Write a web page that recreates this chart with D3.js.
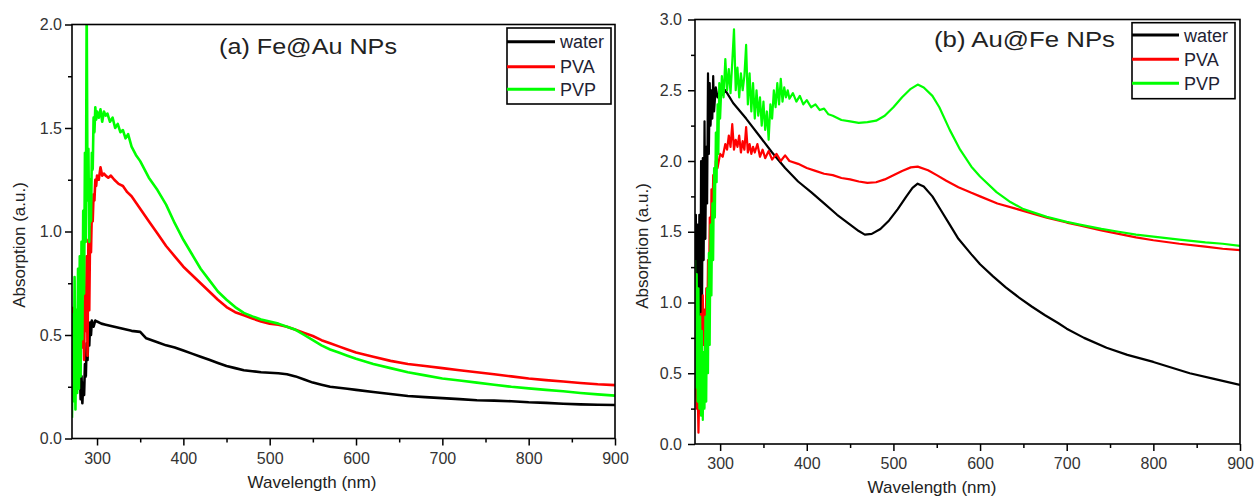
<!DOCTYPE html>
<html>
<head>
<meta charset="utf-8">
<script src="https://cdn.jsdelivr.net/npm/d3@7"></script>
<style>
  html, body { margin: 0; padding: 0; background: #fff; }
  svg { display: block; font-family: "Liberation Sans", Arial, sans-serif; }
</style>
</head>
<body>
<svg id="chart" width="1254" height="497"></svg>
<script>
// ---------------- DATA ----------------
const seriesNames = ["water", "PVA", "PVP"];
const seriesColors = ["#000000", "#ff0000", "#00ff00"];
const xTicksMajor = [300, 400, 500, 600, 700, 800, 900];
const xTicksMinor = [350, 450, 550, 650, 750, 850];
const yTicksA = [0.0, 0.5, 1.0, 1.5, 2.0];
const yTicksB = [0.0, 0.5, 1.0, 1.5, 2.0, 2.5, 3.0];
const titleA = "(a) Fe@Au NPs";
const titleB = "(b) Au@Fe NPs";

// Panel (a) Fe@Au NPs
const aWaterWl = [271,272,273,274,275,276,277,278,279,280,281,282,283,284,285,286,287,288,289,290,291,292,293,294,296,298,300,305,310,320,330,340,350,357,370,380,390,400,410,420,430,440,450,460,470,480,490,500,510,520,530,540,550,560,570,580,590,600,620,640,660,680,700,720,740,760,780,800,820,840,860,880,900];
const aWater   = [0.45,0.63,0.50,0.60,0.36,0.52,0.27,0.42,0.24,0.36,0.19,0.30,0.17,0.27,0.21,0.36,0.30,0.46,0.38,0.52,0.45,0.56,0.50,0.57,0.54,0.57,0.565,0.555,0.55,0.54,0.53,0.52,0.515,0.484,0.465,0.45,0.44,0.425,0.41,0.395,0.38,0.365,0.35,0.34,0.33,0.325,0.32,0.318,0.315,0.31,0.30,0.285,0.27,0.26,0.25,0.245,0.24,0.235,0.225,0.215,0.205,0.20,0.195,0.19,0.185,0.183,0.18,0.175,0.172,0.168,0.165,0.163,0.162];

const aPvaWl = [271,272,273,274,275,276,277,278,279,280,281,282,283,284,285,286,287,288,289,290,291,292,293,294,295,296,297,298,299,300,302,304,306,308,310,313,316,320,325,330,335,340,345,350,360,370,380,390,400,410,420,430,440,450,460,470,480,490,500,510,520,530,540,550,560,570,580,590,600,620,640,660,680,700,720,740,760,780,800,820,840,860,880,900];
const aPva   = [0.55,0.63,0.42,0.60,0.33,0.56,0.30,0.50,0.36,0.62,0.40,0.70,0.44,0.66,0.38,0.72,0.52,0.88,0.40,0.96,0.62,1.02,0.90,1.10,1.05,1.18,1.15,1.25,1.22,1.27,1.25,1.31,1.27,1.28,1.27,1.26,1.27,1.25,1.23,1.22,1.19,1.17,1.14,1.11,1.05,0.99,0.93,0.88,0.83,0.79,0.75,0.71,0.67,0.635,0.61,0.595,0.58,0.565,0.555,0.55,0.54,0.525,0.51,0.495,0.475,0.46,0.445,0.43,0.415,0.395,0.375,0.36,0.35,0.34,0.33,0.32,0.31,0.30,0.29,0.282,0.275,0.268,0.262,0.258];

const aPvpWl = [271,272,273,274,275,276,277,278,279,280,281,282,283,284,285,286,287,288,289,290,291,292,293,294,295,296,297,298,299,300,302,304,306,308,310,312,315,318,321,324,327,330,333,336,340,345,350,355,360,370,380,390,400,410,420,430,440,450,460,470,480,490,500,510,520,530,540,550,560,570,580,590,600,620,640,660,680,700,720,740,760,780,800,820,840,860,880,900];
const aPvp   = [0.10,0.60,0.18,0.78,0.14,0.62,0.22,0.82,0.24,0.88,0.30,0.95,0.48,1.10,0.70,1.38,0.95,2.10,1.15,1.40,0.95,1.25,1.05,1.38,1.30,1.55,1.48,1.60,1.54,1.58,1.55,1.59,1.53,1.58,1.56,1.57,1.53,1.55,1.50,1.52,1.48,1.49,1.45,1.47,1.41,1.37,1.34,1.30,1.26,1.20,1.13,1.04,0.96,0.89,0.82,0.765,0.71,0.67,0.635,0.607,0.59,0.575,0.565,0.555,0.54,0.525,0.50,0.475,0.45,0.43,0.415,0.40,0.385,0.36,0.34,0.32,0.305,0.29,0.28,0.27,0.26,0.25,0.242,0.235,0.228,0.22,0.213,0.207];

// Panel (b) Au@Fe NPs
const bWaterWl = [271,272,273,274,275,276,277,278,279,280,281,282,283,284,285,286,287,288,289,290,291,292,293,295,297,300,303,306,310,315,330,345,360,375,390,405,420,435,450,460,467,475,485,495,505,515,522,528,535,545,555,565,575,590,600,615,630,645,660,675,690,700,720,746,770,800,842,870,900];
const bWater   = [1.30,1.62,1.10,1.55,1.00,1.62,0.55,2.00,0.80,2.02,1.30,2.28,1.45,2.10,1.70,2.62,2.05,2.55,2.25,2.50,2.30,2.60,2.35,2.52,2.45,2.50,2.47,2.50,2.46,2.41,2.30,2.18,2.06,1.95,1.855,1.78,1.70,1.62,1.55,1.505,1.48,1.485,1.52,1.58,1.66,1.75,1.81,1.84,1.82,1.75,1.65,1.55,1.45,1.34,1.27,1.185,1.105,1.035,0.97,0.91,0.855,0.815,0.75,0.68,0.63,0.58,0.50,0.46,0.417];

const bPvaWl = [271,272,273,274,275,276,277,278,279,280,281,282,283,284,285,286,287,288,289,290,291,292,293,295,297,300,303,306,308,310,312,314,316,318,320,322,324,326,328,330,332,334,336,338,340,343,346,349,352,356,360,365,370,375,380,390,400,410,420,430,440,450,460,470,480,490,500,510,520,528,540,550,561,575,590,600,620,640,660,677,700,715,740,760,780,800,830,860,880,900];
const bPva   = [0.35,0.40,0.25,0.40,0.08,0.38,0.22,0.92,0.55,1.05,0.70,0.95,0.60,1.10,0.75,1.30,0.95,1.60,1.20,1.80,1.55,1.90,1.75,2.00,1.95,2.05,2.03,2.12,2.08,2.18,2.10,2.26,2.08,2.15,2.10,2.18,2.06,2.14,2.08,2.24,2.06,2.12,2.05,2.10,2.06,2.12,2.03,2.08,2.02,2.07,2.01,2.05,2.00,2.04,2.00,1.98,1.95,1.93,1.91,1.90,1.88,1.87,1.855,1.845,1.85,1.87,1.90,1.93,1.955,1.96,1.935,1.90,1.86,1.815,1.775,1.75,1.70,1.665,1.63,1.60,1.565,1.545,1.51,1.485,1.46,1.44,1.415,1.395,1.38,1.37];

const bPvpWl = [271,272,273,274,275,276,277,278,279,280,281,282,283,284,285,286,287,288,289,290,291,292,293,294,295,296,297,298,299,300,302,304,306,308,310,312,314,316,318,320,322,324,326,328,330,332,334,336,338,340,342,344,346,348,350,352,354,356,358,360,362,364,366,368,370,372,374,376,378,380,384,388,392,396,400,405,410,415,420,425,430,440,450,460,470,480,490,500,510,520,528,535,545,553,565,577,590,600,619,635,650,677,700,715,740,760,780,800,830,860,880,900];
const bPvp   = [1.30,0.40,1.20,0.30,1.10,0.25,0.90,0.20,0.80,0.17,0.65,0.25,0.90,0.30,1.10,0.50,1.35,0.70,1.55,1.05,1.70,1.30,1.95,1.60,2.20,1.85,2.40,2.05,2.55,2.30,2.60,2.45,2.72,2.50,2.65,2.48,2.70,2.93,2.50,2.66,2.45,2.62,2.50,2.60,2.82,2.40,2.62,2.35,2.55,2.30,2.50,2.32,2.45,2.25,2.42,2.22,2.35,2.15,2.40,2.30,2.50,2.38,2.55,2.40,2.58,2.42,2.52,2.45,2.50,2.44,2.48,2.42,2.46,2.40,2.43,2.38,2.40,2.36,2.37,2.33,2.32,2.29,2.28,2.27,2.275,2.285,2.32,2.38,2.45,2.51,2.54,2.52,2.46,2.38,2.22,2.08,1.96,1.89,1.78,1.71,1.66,1.605,1.57,1.55,1.52,1.50,1.48,1.465,1.445,1.425,1.415,1.40];

// ---------------- DRAW ----------------
const svg = d3.select("#chart");
const FONT = '"Liberation Sans", Arial, sans-serif';

function panel(cfg) {
  const x = d3.scaleLinear().domain([271, 900]).range([cfg.x0, cfg.x1]);
  const y = d3.scaleLinear().domain([0, cfg.yMax]).range([cfg.y0, cfg.y1]);
  const g = svg.append("g");

  const clipId = "clip" + cfg.id;
  svg.append("defs").append("clipPath").attr("id", clipId)
    .append("rect").attr("x", cfg.x0).attr("y", cfg.y1)
    .attr("width", cfg.x1 - cfg.x0).attr("height", cfg.y0 - cfg.y1);

  const line = d3.line().x(d => x(d[0])).y(d => y(d[1]));
  const lines = g.append("g").attr("clip-path", `url(#${clipId})`);
  cfg.series.forEach((s, i) => {
    const pts = s.wl.map((w, k) => [w, s.v[k]]);
    lines.append("path").datum(pts)
      .attr("d", line).attr("fill", "none")
      .attr("stroke", seriesColors[i]).attr("stroke-width", cfg.lw)
      .attr("stroke-linejoin", "round");
  });

  // frame
  g.append("rect").attr("x", cfg.x0).attr("y", cfg.y1)
    .attr("width", cfg.x1 - cfg.x0).attr("height", cfg.y0 - cfg.y1)
    .attr("fill", "none").attr("stroke", "#000").attr("stroke-width", 1.6);

  // x axis major
  const xa = g.append("g").attr("transform", `translate(0,${cfg.y0})`)
    .call(d3.axisBottom(x).tickValues(xTicksMajor).tickSize(7).tickPadding(7).tickFormat(d3.format("d")));
  xa.select(".domain").remove();
  xa.selectAll("line").attr("stroke-width", 1.5);
  xa.selectAll("text").attr("font-size", 16).attr("font-family", FONT).attr("fill", "#333");
  const xm = g.append("g").attr("transform", `translate(0,${cfg.y0})`)
    .call(d3.axisBottom(x).tickValues(xTicksMinor).tickSize(4).tickFormat(""));
  xm.select(".domain").remove();
  xm.selectAll("line").attr("stroke-width", 1.5);

  // y axis
  const ya = g.append("g").attr("transform", `translate(${cfg.x0},0)`)
    .call(d3.axisLeft(y).tickValues(cfg.yTicks).tickSize(7).tickPadding(cfg.yPad).tickFormat(d3.format(".1f")));
  ya.select(".domain").remove();
  ya.selectAll("line").attr("stroke-width", 1.5);
  ya.selectAll("text").attr("font-size", 16).attr("font-family", FONT).attr("fill", "#333");
  const minorY = cfg.yTicks.slice(1).map(t => t - 0.25);
  const ym = g.append("g").attr("transform", `translate(${cfg.x0},0)`)
    .call(d3.axisLeft(y).tickValues(minorY).tickSize(4).tickFormat(""));
  ym.select(".domain").remove();
  ym.selectAll("line").attr("stroke-width", 1.5);

  // axis titles
  g.append("text").attr("x", cfg.xTitleX).attr("y", cfg.xTitleY)
    .attr("text-anchor", "middle").attr("font-size", 17).attr("font-family", FONT).attr("fill", "#222")
    .text("Wavelength (nm)");
  g.append("text").attr("transform", `translate(${cfg.yTitleX},${cfg.yTitleY}) rotate(-90)`)
    .attr("text-anchor", "middle").attr("font-size", 17).attr("font-family", FONT).attr("fill", "#222")
    .text("Absorption (a.u.)");

  // panel title
  g.append("text").attr("x", cfg.tX).attr("y", cfg.tY)
    .attr("font-size", 22).attr("font-family", FONT).attr("fill", "#222")
    .attr("textLength", cfg.tW).attr("lengthAdjust", "spacingAndGlyphs")
    .text(cfg.title);

  // legend
  const L = cfg.legend;
  g.append("rect").attr("x", L.x).attr("y", L.y).attr("width", L.w).attr("height", L.h)
    .attr("fill", "#fff").attr("stroke", "#000").attr("stroke-width", 1.6);
  seriesNames.forEach((n, i) => {
    const cy = L.rows[i];
    g.append("line").attr("x1", L.x).attr("x2", L.x + L.lineLen)
      .attr("y1", cy).attr("y2", cy).attr("stroke", seriesColors[i]).attr("stroke-width", 3);
    g.append("text").attr("x", L.x + L.lineLen + 5).attr("y", cy + 6.5)
      .attr("font-size", 18).attr("font-family", FONT).attr("fill", "#223")
      .text(n);
  });
}

panel({
  id: "A", x0: 72, x1: 615, y0: 438.5, y1: 24.5, yMax: 2, yTicks: yTicksA, yPad: 3, lw: 2.6,
  series: [{wl: aWaterWl, v: aWater}, {wl: aPvaWl, v: aPva}, {wl: aPvpWl, v: aPvp}],
  xTitleX: 312, xTitleY: 488, yTitleX: 25, yTitleY: 245,
  title: titleA, tX: 219, tY: 54, tW: 178,
  legend: {x: 507, y: 28, w: 104, h: 76, lineLen: 48, rows: [41.7, 66.7, 89.3]}
});

panel({
  id: "B", x0: 695, x1: 1240, y0: 444, y1: 19.5, yMax: 3, yTicks: yTicksB, yPad: 6, lw: 2.2,
  series: [{wl: bWaterWl, v: bWater}, {wl: bPvaWl, v: bPva}, {wl: bPvpWl, v: bPvp}],
  xTitleX: 932, xTitleY: 493, yTitleX: 648, yTitleY: 246,
  title: titleB, tX: 934, tY: 47, tW: 181,
  legend: {x: 1132, y: 22.7, w: 103, h: 76, lineLen: 47, rows: [35, 59.3, 83.3]}
});
</script>
</body>
</html>
